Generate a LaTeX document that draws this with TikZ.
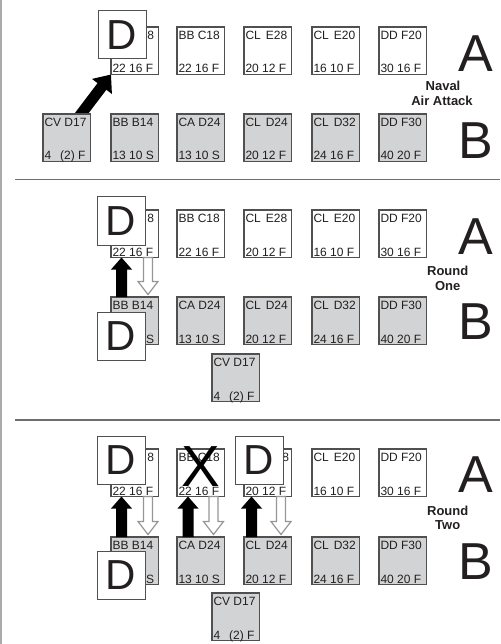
\documentclass[tikz,border=0pt]{standalone}
\usepackage{fontspec}
\setmainfont{Liberation Sans}
\usetikzlibrary{calc,arrows.meta}
\pgfdeclarelayer{background}
\pgfsetlayers{background,main}
\definecolor{ctrfill}{RGB}{209,211,212}
\definecolor{ctrline}{RGB}{80,80,80}
\definecolor{txt}{RGB}{35,31,32}
\definecolor{hollowline}{RGB}{150,150,150}
\definecolor{sepline}{RGB}{110,110,110}
\definecolor{frameline}{RGB}{170,170,170}
\tikzset{
  counter/.style={draw=ctrline, line width=1.2pt, minimum width=47.5pt, minimum height=47.5pt, inner sep=0pt, outer sep=0pt, anchor=north west},
  white counter/.style={counter, fill=white},
  gray counter/.style={counter, fill=ctrfill},
  ctext/.style={inner sep=0pt, outer sep=0pt, anchor=base west, text=txt, font=\fontsize{12pt}{14pt}\selectfont},
  dbox/.style={draw=ctrline, line width=1pt, fill=white, minimum width=48pt, minimum height=48pt, inner sep=0pt, outer sep=0pt, anchor=north west, text=txt, font=\fontsize{42pt}{46pt}\selectfont},
  bigletter/.style={inner sep=0pt, anchor=base, text=txt, font=\fontsize{52pt}{56pt}\selectfont},
  bigx/.style={inner sep=0pt, anchor=base, text=black, font=\fontsize{58pt}{62pt}\selectfont},
  roundlabel/.style={inner sep=0pt, anchor=base, text=txt, font=\bfseries\fontsize{13pt}{15pt}\selectfont},
  blackarrow/.style={fill=black, draw=none},
  hollowarrow/.style={fill=white, draw=hollowline, line width=1.2pt},
  sepline/.style={draw=sepline, line width=1.5pt},
  frame/.style={draw=frameline, line width=1.5pt},
}
% counter: name, style, x, y, top text, bottom text
\newcommand\ctr[6]{%
  \node[#2] (#1) at (#3,#4) {};
  \node[ctext] (#1a) at ($(#1.north west)+(1.5pt,-12.3pt)$) {#5};
  \node[ctext] (#1b) at ($(#1.south west)+(1.5pt,1.5pt)$) {#6};}
% vertical solid arrow pointing up: start (bottom), tip (top)
\newcommand\arrUp[2]{\path[blackarrow] let \p1=#1, \p2=#2 in
  (\x1-5.5pt,\y1) -- (\x1-5.5pt,\y2-12pt) -- (\x1-10.5pt,\y2-12pt) -- (\x1,\y2) --
  (\x1+10.5pt,\y2-12pt) -- (\x1+5.5pt,\y2-12pt) -- (\x1+5.5pt,\y1) -- cycle;}
% vertical hollow arrow pointing down: start (top), tip (bottom)
\newcommand\arrDown[2]{\path[hollowarrow] let \p1=#1, \p2=#2 in
  (\x1-4.5pt,\y1) -- (\x1-4.5pt,\y2+13pt) -- (\x1-10pt,\y2+13pt) -- (\x1,\y2) --
  (\x1+10pt,\y2+13pt) -- (\x1+4.5pt,\y2+13pt) -- (\x1+4.5pt,\y1) -- cycle;}
\begin{document}
\begin{tikzpicture}[x=1pt,y=-1pt]
\useasboundingbox (0,0) rectangle (500,644);
\draw[frame] (1,0) -- (1,644);
\draw[sepline] (15,179.5) -- (500,179.5);
\draw[sepline] (15,420) -- (500,420);

% ---------- Section 1: Naval Air Attack ----------
\ctr{s1t1}{white counter}{111}{27}{\hspace*{34.8pt}8}{22 16 F}
\ctr{s1t2}{white counter}{177}{27}{BB C18}{22 16 F}
\ctr{s1t3}{white counter}{244}{27}{CL\hspace{5pt}E28}{20 12 F}
\ctr{s1t4}{white counter}{312}{27}{CL\hspace{5pt}E20}{16 10 F}
\ctr{s1t5}{white counter}{379}{27}{DD F20}{30 16 F}
\ctr{s1b0}{gray counter}{43}{114}{CV D17}{4\hspace{9pt}(2) F}
\ctr{s1b1}{gray counter}{111}{114}{BB B14}{13 10 S}
\ctr{s1b2}{gray counter}{177}{114}{CA D24}{13 10 S}
\ctr{s1b3}{gray counter}{244}{114}{CL\hspace{5pt}D24}{20 12 F}
\ctr{s1b4}{gray counter}{312}{114}{CL\hspace{5pt}D32}{24 16 F}
\ctr{s1b5}{gray counter}{379}{114}{DD F30}{40 20 F}
\node[dbox] (d1) at ($(s1t1.north west)+(-13pt,16pt)$) {D};
\begin{pgfonlayer}{background}
\draw[line width=11pt, -{Triangle[length=15pt,width=24pt]}] ($(s1b0.north)+(11.3pt,-4pt)$) -- (s1t1.south west);
\end{pgfonlayer}
\node[bigletter] (A1) at (476,71.7) {A};
\node[bigletter] (B1) at (476,158.3) {B};
\node[roundlabel] (L1a) at (443,90.7) {Naval};
\node[roundlabel] (L1b) at (442,106) {Air Attack};

% ---------- Section 2: Round One ----------
\ctr{s2t1}{white counter}{111}{210}{\hspace*{34.8pt}8}{22 16 F}
\ctr{s2t2}{white counter}{177}{210}{BB C18}{22 16 F}
\ctr{s2t3}{white counter}{244}{210}{CL\hspace{5pt}E28}{20 12 F}
\ctr{s2t4}{white counter}{312}{210}{CL\hspace{5pt}E20}{16 10 F}
\ctr{s2t5}{white counter}{379}{210}{DD F20}{30 16 F}
\ctr{s2b1}{gray counter}{111}{297}{BB B14}{\hspace*{33.5pt}S}
\ctr{s2b2}{gray counter}{177}{297}{CA D24}{13 10 S}
\ctr{s2b3}{gray counter}{244}{297}{CL\hspace{5pt}D24}{20 12 F}
\ctr{s2b4}{gray counter}{312}{297}{CL\hspace{5pt}D32}{24 16 F}
\ctr{s2b5}{gray counter}{379}{297}{DD F30}{40 20 F}
\ctr{s2v}{gray counter}{212}{354}{CV D17}{4\hspace{9pt}(2) F}
\node[dbox] (d2a) at ($(s2t1.north west)+(-14pt,13pt)$) {D};
\node[dbox] (d2b) at ($(s2b1.north west)+(-14pt,-15pt)$) {D};
\arrUp{($(s2b1.north west)+(10.5pt,0pt)$)}{($(s2t1.south west)+(10.5pt,0pt)$)}
\arrDown{($(s2t1.south west)+(37pt,0pt)$)}{($(s2b1.north west)+(37pt,2.5pt)$)}
\node[bigletter] (A2) at (476,254) {A};
\node[bigletter] (B2) at (476,339) {B};
\node[roundlabel] (L2a) at (447.7,275) {Round};
\node[roundlabel] (L2b) at (447.7,290.7) {One};

% ---------- Section 3: Round Two ----------
\ctr{s3t1}{white counter}{111}{449}{\hspace*{34.8pt}8}{22 16 F}
\ctr{s3t2}{white counter}{177}{449}{BB C18}{22 16 F}
\ctr{s3t3}{white counter}{244}{449}{\hspace*{36.8pt}8}{20 12 F}
\ctr{s3t4}{white counter}{312}{449}{CL\hspace{5pt}E20}{16 10 F}
\ctr{s3t5}{white counter}{379}{449}{DD F20}{30 16 F}
\ctr{s3b1}{gray counter}{111}{537}{BB B14}{\hspace*{33.5pt}S}
\ctr{s3b2}{gray counter}{177}{537}{CA D24}{13 10 S}
\ctr{s3b3}{gray counter}{244}{537}{CL\hspace{5pt}D24}{20 12 F}
\ctr{s3b4}{gray counter}{312}{537}{CL\hspace{5pt}D32}{24 16 F}
\ctr{s3b5}{gray counter}{379}{537}{DD F30}{40 20 F}
\ctr{s3v}{gray counter}{212}{593}{CV D17}{4\hspace{9pt}(2) F}
\node[dbox] (d3a) at ($(s3t1.north west)+(-14pt,13pt)$) {D};
\node[dbox] (d3b) at ($(s3b1.north west)+(-14pt,-14pt)$) {D};
\node[dbox] (d3c) at ($(s3t3.north west)+(-9pt,13pt)$) {D};
\node[bigx] (x3) at ($(s3t2.south)+(0pt,10pt)$) {X};
\arrUp{($(s3b1.north west)+(10.5pt,0pt)$)}{($(s3t1.south west)+(10.5pt,0pt)$)}
\arrDown{($(s3t1.south west)+(37pt,0pt)$)}{($(s3b1.north west)+(37pt,2.5pt)$)}
\arrUp{($(s3b2.north west)+(11pt,0pt)$)}{($(s3t2.south west)+(11pt,0pt)$)}
\arrDown{($(s3t2.south west)+(36.5pt,0pt)$)}{($(s3b2.north west)+(36.5pt,2.5pt)$)}
\arrUp{($(s3b3.north west)+(7.5pt,0pt)$)}{($(s3t3.south west)+(7.5pt,0pt)$)}
\arrDown{($(s3t3.south west)+(37pt,0pt)$)}{($(s3b3.north west)+(37pt,2.5pt)$)}
\node[bigletter] (A3) at (476,492.7) {A};
\node[bigletter] (B3) at (476,579) {B};
\node[roundlabel] (L3a) at (447.7,515) {Round};
\node[roundlabel] (L3b) at (447.7,529) {Two};
\end{tikzpicture}
\end{document}
